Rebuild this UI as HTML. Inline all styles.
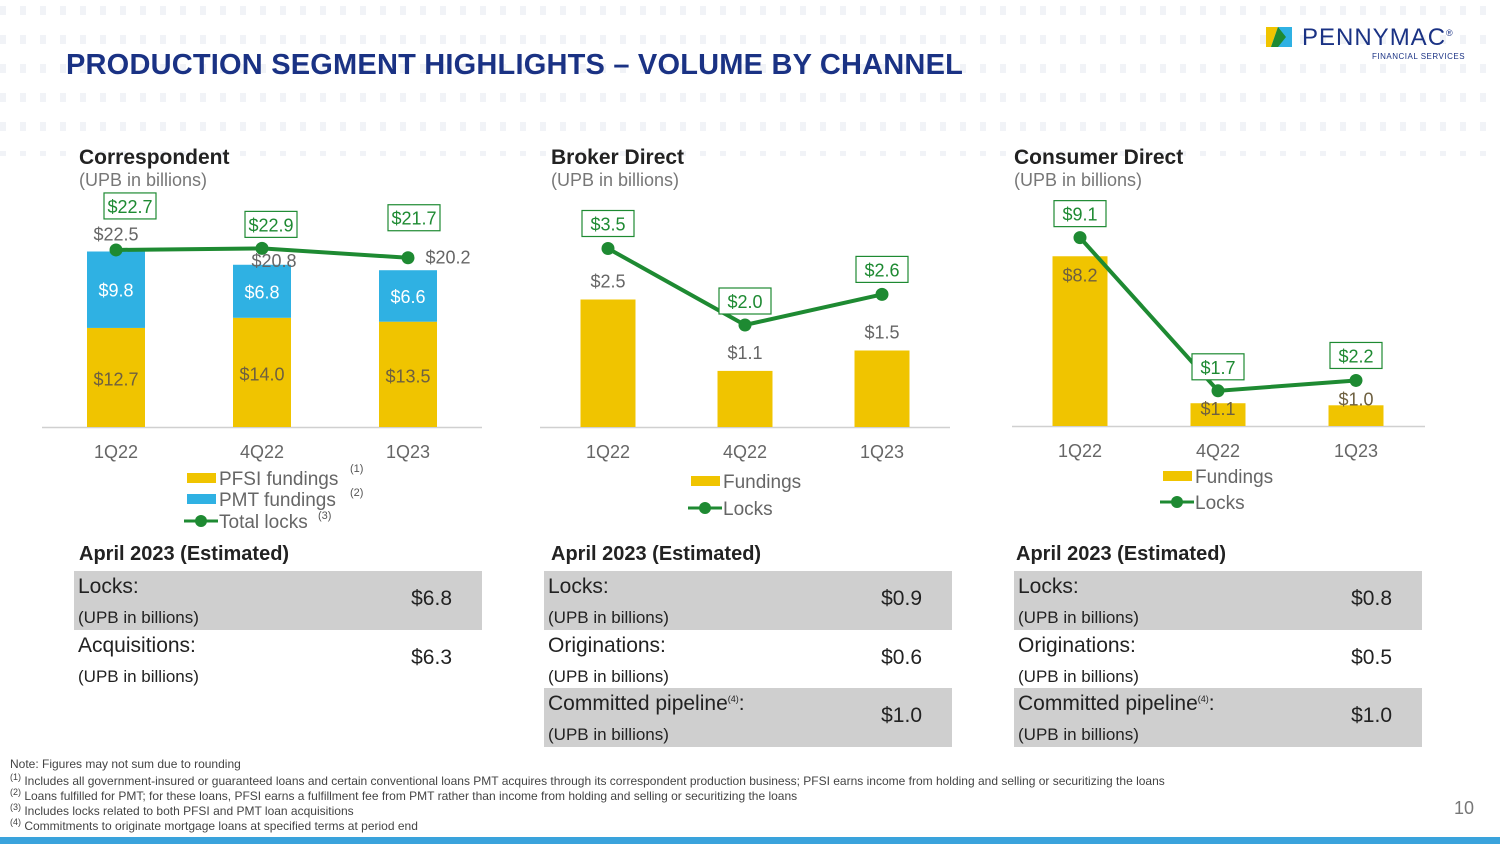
<!DOCTYPE html>
<html><head><meta charset="utf-8">
<style>
body{margin:0;width:1500px;height:844px;position:relative;overflow:hidden;background:#fff;font-family:"Liberation Sans",sans-serif;}
.dots{position:absolute;left:0;top:6px;width:1500px;height:150px;background-image:repeating-linear-gradient(90deg,#f1f3f7 0 6px,transparent 6px 20px);-webkit-mask:repeating-linear-gradient(180deg,#000 0 9px,transparent 9px 29px);mask:repeating-linear-gradient(180deg,#000 0 9px,transparent 9px 29px);}
.t{position:absolute;white-space:nowrap;}
h1{position:absolute;left:66px;top:49px;margin:0;font-size:29px;font-weight:bold;color:#1a3284;letter-spacing:0.2px;}
.ct{font-size:21px;font-weight:bold;color:#222;}
.cs{font-size:18px;color:#777;}
.tbl{position:absolute;width:408px;}
.row{position:relative;height:58.5px;}
.row.g{background:#cfcfcf;}
.row .a{position:absolute;left:4px;top:4px;font-size:21px;color:#222;}
.row .b{position:absolute;left:4px;top:37px;font-size:17px;color:#222;}
.row .v{position:absolute;right:30px;top:16px;font-size:21px;color:#222;}
.est{font-size:20px;font-weight:bold;color:#222;}
.foot{position:absolute;left:10px;font-size:12px;color:#444;}
sup{font-size:9px;}
</style></head><body>
<div class="dots"></div>
<h1>PRODUCTION SEGMENT HIGHLIGHTS – VOLUME BY CHANNEL</h1>
<div class="t" style="left:1266px;top:24px;">
 <svg width="26" height="22" style="position:absolute;left:0;top:3px"><polygon points="0,0 12,0 5,20 0,20" fill="#f0c400"/><polygon points="12,0 26,0 26,20 5,20" fill="#2fb1e3"/><polygon points="12,0 20,10 12,20 5,20" fill="#1e8a32"/></svg>
 <span style="position:absolute;left:36px;top:0;font-size:24px;color:#1a3284;letter-spacing:1px;">PENNYMAC<sup>®</sup></span>
 <span style="position:absolute;left:106px;top:28px;font-size:8px;color:#1a3284;letter-spacing:0.5px;">FINANCIAL SERVICES</span>
</div>

<div class="t ct" style="left:79px;top:146px">Correspondent</div>
<div class="t cs" style="left:79px;top:170px">(UPB in billions)</div>
<div class="t ct" style="left:551px;top:146px">Broker Direct</div>
<div class="t cs" style="left:551px;top:170px">(UPB in billions)</div>
<div class="t ct" style="left:1014px;top:146px">Consumer Direct</div>
<div class="t cs" style="left:1014px;top:170px">(UPB in billions)</div>

<svg id="charts" width="1500" height="540" style="position:absolute;left:0;top:0"></svg>

<div class="t est" style="left:79px;top:543px">April 2023 (Estimated)</div>
<div class="t est" style="left:551px;top:543px">April 2023 (Estimated)</div>
<div class="t est" style="left:1016px;top:543px">April 2023 (Estimated)</div>

<div class="tbl" style="left:74px;top:571px">
 <div class="row g"><span class="a">Locks:</span><span class="b">(UPB in billions)</span><span class="v">$6.8</span></div>
 <div class="row"><span class="a">Acquisitions:</span><span class="b">(UPB in billions)</span><span class="v">$6.3</span></div>
</div>
<div class="tbl" style="left:544px;top:571px">
 <div class="row g"><span class="a">Locks:</span><span class="b">(UPB in billions)</span><span class="v">$0.9</span></div>
 <div class="row"><span class="a">Originations:</span><span class="b">(UPB in billions)</span><span class="v">$0.6</span></div>
 <div class="row g"><span class="a">Committed pipeline<sup>(4)</sup>:</span><span class="b">(UPB in billions)</span><span class="v">$1.0</span></div>
</div>
<div class="tbl" style="left:1014px;top:571px">
 <div class="row g"><span class="a">Locks:</span><span class="b">(UPB in billions)</span><span class="v">$0.8</span></div>
 <div class="row"><span class="a">Originations:</span><span class="b">(UPB in billions)</span><span class="v">$0.5</span></div>
 <div class="row g"><span class="a">Committed pipeline<sup>(4)</sup>:</span><span class="b">(UPB in billions)</span><span class="v">$1.0</span></div>
</div>

<div class="foot" style="top:757px">Note: Figures may not sum due to rounding</div>
<div class="foot" style="top:772px"><sup>(1)</sup> Includes all government-insured or guaranteed loans and certain conventional loans PMT acquires through its correspondent production business; PFSI earns income from holding and selling or securitizing the loans</div>
<div class="foot" style="top:787px"><sup>(2)</sup> Loans fulfilled for PMT; for these loans, PFSI earns a fulfillment fee from PMT rather than income from holding and selling or securitizing the loans</div>
<div class="foot" style="top:802px"><sup>(3)</sup> Includes locks related to both PFSI and PMT loan acquisitions</div>
<div class="foot" style="top:817px"><sup>(4)</sup> Commitments to originate mortgage loans at specified terms at period end</div>
<div class="t" style="left:1454px;top:798px;font-size:18px;color:#777">10</div>
<div style="position:absolute;left:0;top:837px;width:1500px;height:7px;background:#3aa3dc"></div>

<script>
const quarters = ["1Q22","4Q22","1Q23"];
const corrPfsi = [12.7,14.0,13.5];
const corrPmt = [9.8,6.8,6.6];
const corrTotal = [22.5,20.8,20.2];
const corrLocks = [22.7,22.9,21.7];
const brokerFund = [2.5,1.1,1.5];
const brokerLocks = [3.5,2.0,2.6];
const consFund = [8.2,1.1,1.0];
const consLocks = [9.1,1.7,2.2];

const svg = document.getElementById('charts');
const NS = 'http://www.w3.org/2000/svg';
function mk(tag, attrs, text){
  const e = document.createElementNS(NS, tag);
  for (const k in attrs) e.setAttribute(k, attrs[k]);
  if (text !== undefined) e.textContent = text;
  svg.appendChild(e);
  return e;
}
const YEL='#f0c400', BLU='#2fb1e3', GRN='#1e8a32';
function fmt(v){return '$'+v.toFixed(1);}

function chart(cfg){
  const y = v => cfg.base - v*cfg.scale;
  const x = i => cfg.x0 + i*cfg.dx;
  const ax = mk('line',{x1:cfg.ax0,x2:cfg.ax1,y1:cfg.base+0.5,y2:cfg.base+0.5,stroke:'#d0d0d0','stroke-width':1.5});
  
  
  quarters.forEach((q,i)=>{
    const t = mk('text',{x:x(i),y:cfg.base+31,'text-anchor':'middle','font-size':18,fill:'#666','font-family':'Liberation Sans'},q);
    
    
  });
  cfg.fund.forEach((v,i)=>{
    const r = mk('rect',{x:x(i)-cfg.bw/2,y:y(v),width:cfg.bw,height:v*cfg.scale,fill:YEL});
    
    
    let ly;
    if (cfg.pmt) ly = y(v)+v*cfg.scale/2+8;
    else if (cfg.inside) ly = y(v)+cfg.lblOff[i];
    else ly = y(v)-12;
    const t = mk('text',{x:x(i),y:ly,'text-anchor':'middle','font-size':18,fill:cfg.inside?'#6e6040':'#666','font-family':'Liberation Sans'},fmt(v));
    
    
  });
  if (cfg.pmt){
    cfg.pmt.forEach((v,i)=>{
      const b = cfg.fund[i];
      const r = mk('rect',{x:x(i)-cfg.bw/2,y:y(b+v),width:cfg.bw,height:v*cfg.scale,fill:BLU});
      
      
      const t = mk('text',{x:x(i),y:y(b+v/2)+7,'text-anchor':'middle','font-size':18,fill:'#fff','font-family':'Liberation Sans'},fmt(v));
      
      
    });
    cfg.total.forEach((v,i)=>{
      const dx = i==2 ? 40 : (i==1 ? 12 : 0), dy = i==2 ? -6 : (i==0 ? -11 : 2);
      const t = mk('text',{x:x(i)+dx,y:y(v)+dy,'text-anchor':'middle','font-size':18,fill:'#666','font-family':'Liberation Sans'},fmt(v));
      
      
    });
  }
  const pts = cfg.locks.map((v,i)=>x(i)+','+y(v)).join(' ');
  const pl = mk('polyline',{points:pts,fill:'none',stroke:GRN,'stroke-width':4});
  
  
  cfg.locks.forEach((v,i)=>{
    const c = mk('circle',{cx:x(i),cy:y(v),r:6.5,fill:GRN});
    
    
    const off = cfg.lockOff[i];
    const lx = x(i)+off[0], ly = y(v)+off[1];
    const bx = mk('rect',{x:lx-26,y:ly-13,width:52,height:26,fill:'#fff',stroke:GRN,'stroke-width':1.2});
    
    
    const t = mk('text',{x:lx,y:ly+7,'text-anchor':'middle','font-size':18,fill:GRN,'font-family':'Liberation Sans'},fmt(v));
    
    
  });
}
chart({name:'correspondent',base:427,scale:7.8,x0:116,dx:146,bw:58,ax0:42,ax1:482,fund:corrPfsi,pmt:corrPmt,total:corrTotal,locks:corrLocks,inside:true,lockOff:[[14,-44],[9,-24],[6,-40]]});
chart({name:'broker',base:427,scale:51,x0:608,dx:137,bw:55,ax0:540,ax1:950,fund:brokerFund,locks:brokerLocks,inside:false,lockOff:[[0,-25],[0,-24],[0,-25]]});
chart({name:'consumer',base:426,scale:20.7,x0:1080,dx:138,bw:55,ax0:1012,ax1:1425,fund:consFund,locks:consLocks,inside:true,lblOff:[25,12,0],lockOff:[[0,-24],[0,-24],[0,-25]]});

function legend(x0,y0,label,type){
  if(type==='line'){
    const l = mk('line',{x1:x0,x2:x0+34,y1:y0,y2:y0,stroke:GRN,'stroke-width':3});
    
    
    const c = mk('circle',{cx:x0+17,cy:y0,r:6,fill:GRN});
    
    
  } else {
    const r = mk('rect',{x:x0+3,y:y0-5,width:29,height:10,fill:type});
    
    
  }
  const t = mk('text',{x:x0+35,y:y0+7,'font-size':19,fill:'#666','font-family':'Liberation Sans'},label);
  
  
  return t;
}
legend(184,478,'PFSI fundings',YEL);
legend(184,499,'PMT fundings',BLU);
legend(184,521,'Total locks','line');
[['(1)',350,472],['(2)',350,496],['(3)',318,519]].forEach(s=>{
  const t = mk('text',{x:s[1],y:s[2],'font-size':11,fill:'#555','font-family':'Liberation Sans'},s[0]);
  
  
});
legend(688,481,'Fundings',YEL);
legend(688,508,'Locks','line');
legend(1160,476,'Fundings',YEL);
legend(1160,502,'Locks','line');
</script>
</body></html>
